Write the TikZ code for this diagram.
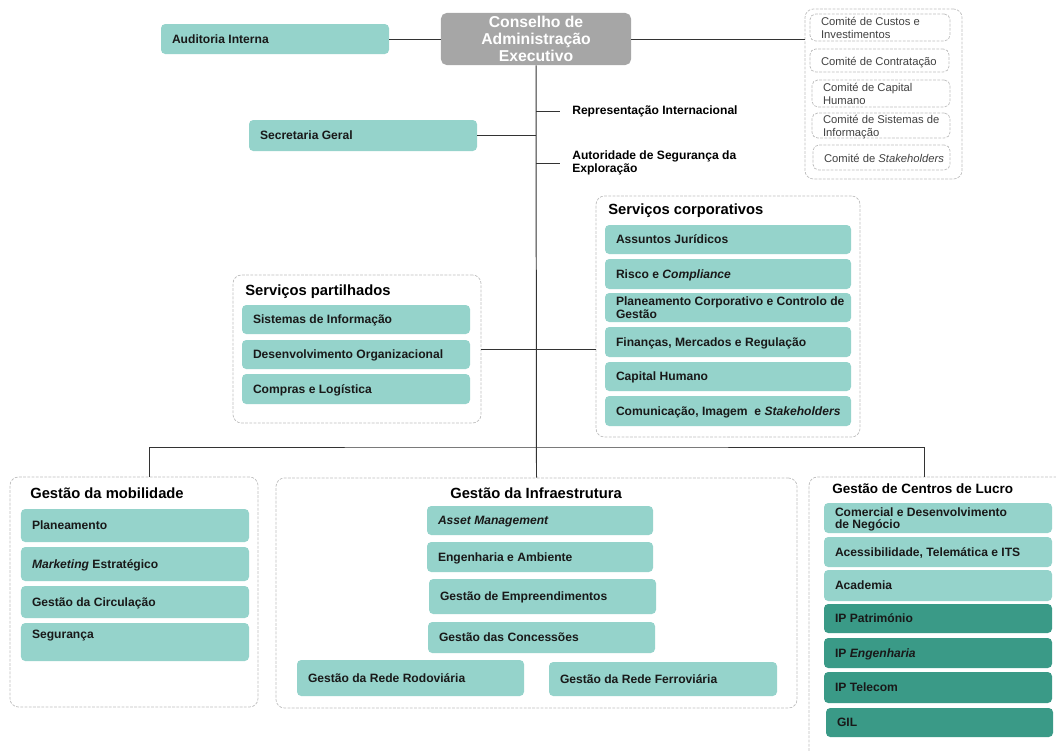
\documentclass[tikz,border=0pt]{standalone}
\usepackage{fontspec}
\setmainfont{Liberation Sans}
\usetikzlibrary{calc, positioning}
\definecolor{tealL}{HTML}{95D3CB}
\definecolor{tealD}{HTML}{3A9A87}
\definecolor{boardgray}{HTML}{A6A6A6}
\definecolor{dashgray}{HTML}{BDBDBD}
% box from corner (#3,#4) to corner (#5,#6), in pixels of the page
\newcommand{\orgcell}[7]{%
	\pgfmathsetmacro\cw{(#5-#3)*0.025}%
	\pgfmathsetmacro\ch{(#6-#4)*0.025}%
	\pgfmathsetmacro\tw{\cw-0.55}%
	\node[text depth=0pt, #1, minimum width=\cw cm, minimum height=\ch cm] (#2) at ({(#3+#5)/2},{(#4+#6)/2})
		{\makebox[\tw cm][l]{\begin{tabular}[b]{@{}l@{}}#7\end{tabular}}};}

\begin{document}
\begin{tikzpicture}[x=0.025cm, y=-0.025cm,
	unit/.style={fill=tealL, rounded corners=3pt, inner xsep=0.275cm, inner ysep=0pt, text=black!90, font=\fontsize{8.6}{9}\selectfont\bfseries},
	unitD/.style={unit, fill=tealD},
	board/.style={fill=boardgray, rounded corners=4pt, inner sep=0pt, align=center, text=white, font=\fontsize{11.2}{12}\selectfont\bfseries},
	group/.style={draw=dashgray, dash pattern=on 2pt off 1pt, line width=0.5pt, rounded corners=6pt, inner sep=0pt},
	comite/.style={group, rounded corners=4pt, inner xsep=0.275cm, text=black!75, font=\fontsize{8}{9.3}\selectfont},
	title/.style={anchor=west, inner sep=0pt, font=\fontsize{10.5}{12}\selectfont\bfseries},
	label/.style={anchor=west, inner sep=0pt, align=left, font=\fontsize{8.6}{9.3}\selectfont\bfseries},
	link/.style={draw=black!80, line width=0.7pt}]
	\useasboundingbox (0,0) rectangle (1056,750);

	% top
	\node[board, minimum width=4.75cm, minimum height=1.3cm] (board) at (536,39) {Conselho de\\Administração\\Executivo};
	\orgcell{unit}{aud}{161}{24}{389}{54}{Auditoria Interna}
	\orgcell{unit}{sec}{249}{120}{477}{151}{Secretaria Geral}
	\node[label] (repr) at (572,111) {Representação Internacional};
	\node[label] (auth) at (572,163) {Autoridade de Segurança da\\Exploração};

	% comites
	\orgcell{group}{comm}{805}{9}{962}{179}{}
	\orgcell{comite}{c1}{810}{14}{950}{41}{Comité de Custos e\\Investimentos}
	\orgcell{comite}{c2}{810}{49}{949}{72}{Comité de Contratação}
	\orgcell{comite}{c3}{812}{80}{950}{107}{Comité de Capital\\Humano}
	\orgcell{comite}{c4}{812}{113}{950}{138}{Comité de Sistemas de\\Informação}
	\orgcell{comite}{c5}{813}{145}{950}{170}{Comité de \textit{Stakeholders}}

	% servicos corporativos
	\orgcell{group}{corp}{596}{196}{860}{437}{}
	\node[title] (corpt) at (608,211) {Serviços corporativos};
	\orgcell{unit}{cj}{605}{225}{851}{254}{Assuntos Jurídicos}
	\orgcell{unit}{cr}{605}{259}{851}{289}{Risco e \textit{Compliance}}
	\orgcell{unit}{cp}{605}{293}{851}{322}{Planeamento Corporativo e Controlo de\\Gestão}
	\orgcell{unit}{cf}{605}{327}{851}{357}{Finanças, Mercados e Regulação}
	\orgcell{unit}{cc}{605}{362}{851}{391}{Capital Humano}
	\orgcell{unit}{cs}{605}{396}{851}{426}{Comunicação, Imagem \ e \textit{Stakeholders}}

	% servicos partilhados
	\orgcell{group}{shared}{233}{275}{481}{423}{}
	\node[title] (sharedt) at (245,292) {Serviços partilhados};
	\orgcell{unit}{si}{242}{305}{470}{334}{Sistemas de Informação}
	\orgcell{unit}{so}{242}{340}{470}{369}{Desenvolvimento Organizacional}
	\orgcell{unit}{sc}{242}{374}{470}{404}{Compras e Logística}

	% gestao da mobilidade
	\orgcell{group}{mob}{10}{477}{258}{707}{}
	\node[title] (mobt) at (30,493) {Gestão da mobilidade};
	\orgcell{unit}{mp}{21}{509}{249}{542}{Planeamento}
	\orgcell{unit}{mm}{21}{547}{249}{581}{\textit{Marketing} Estratégico}
	\orgcell{unit}{mc}{21}{586}{249}{618}{Gestão da Circulação}
	\orgcell{unit, text depth=0.4cm}{ms}{21}{623}{249}{661}{Segurança}

	% gestao da infraestrutura
	\orgcell{group}{infra}{276}{478}{797}{708}{}
	\node[title, anchor=center] (infrat) at (536,493) {Gestão da Infraestrutura};
	\orgcell{unit}{ia}{427}{506}{653}{535}{\textit{Asset Management}}
	\orgcell{unit}{ie}{427}{542}{653}{572}{Engenharia e Ambiente}
	\orgcell{unit}{ig}{429}{579}{656}{614}{Gestão de Empreendimentos}
	\orgcell{unit}{ic}{428}{622}{655}{653}{Gestão das Concessões}
	\orgcell{unit}{ir}{297}{660}{524}{696}{Gestão da Rede Rodoviária}
	\orgcell{unit}{if}{549}{662}{777}{696}{Gestão da Rede Ferroviária}

	% gestao de centros de lucro
	\orgcell{group}{lucro}{809}{477}{1069}{790}{}
	\node[title, font=\fontsize{9.6}{12}\selectfont\bfseries] (lucrot) at (832,489) {Gestão de Centros de Lucro};
	\orgcell{unit}{la}{824}{503}{1052}{533}{Comercial e Desenvolvimento\\de Negócio}
	\orgcell{unit}{lb}{824}{537}{1052}{567}{Acessibilidade, Telemática e ITS}
	\orgcell{unit}{lc}{824}{570}{1052}{601}{Academia}
	\orgcell{unitD}{ld}{824}{604}{1052}{633}{IP Património}
	\orgcell{unitD}{le}{824}{638}{1052}{668}{IP \textit{Engenharia}}
	\orgcell{unitD}{lf}{824}{672}{1052}{703}{IP Telecom}
	\orgcell{unitD}{lg}{826}{708}{1053}{737}{GIL}

	% links
	\coordinate (bus) at (536,447);
	\draw[link] (aud.east) -- (board.west);
	\draw[link] (board.east) -- (board.east -| comm.west);
	\draw[link] (board.south) -- (infra.north);
	\draw[link] (repr.west -| board.south) -- ([xshift=-0.3cm]repr.west);
	\draw[link] (auth.west -| board.south) -- ([xshift=-0.3cm]auth.west);
	\draw[link] (sec.east) -- (sec.east -| board.south);
	\draw[link] (shared.east) -- (shared.east -| corp.west);
	\draw[link] ([xshift=0.375cm]mob.north) |- (bus) -| ([xshift=-0.375cm]lucro.north);
\end{tikzpicture}
\end{document}
